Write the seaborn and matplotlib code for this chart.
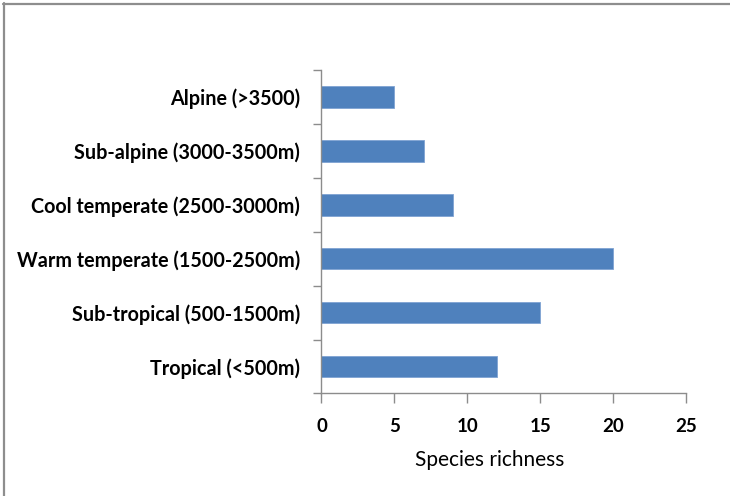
import matplotlib
matplotlib.use("Agg")
import matplotlib.pyplot as plt
import seaborn as sns
import pandas as pd
from matplotlib.lines import Line2D
from matplotlib.ticker import FixedLocator

categories = [
    "Alpine (>3500)",
    "Sub-alpine (3000-3500m)",
    "Cool temperate (2500-3000m)",
    "Warm temperate (1500-2500m)",
    "Sub-tropical (500-1500m)",
    "Tropical (<500m)",
]
richness = [5, 7, 9, 20, 15, 12]
x_ticks = [0, 5, 10, 15, 20, 25]
x_label = "Species richness"

df = pd.DataFrame({"zone": categories, "richness": richness})

sns.set_theme(style="white")
plt.rcParams["font.family"] = ["Lato", "DejaVu Sans"]

fig = plt.figure(figsize=(7.3, 4.96), dpi=100)
ax = fig.add_axes([0.4404, 0.2067, 0.5, 0.6522])

sns.barplot(data=df, y="zone", x="richness", orient="h", color="#4F81BD",
            width=0.4, saturation=1, edgecolor="#7FA3D3", linewidth=0.6, ax=ax)

ax.set_xlim(0, 25)
ax.set_ylim(len(categories) - 0.5, -0.5)
ax.set_xticks(x_ticks)
ax.set_xticklabels([str(t) for t in x_ticks], fontsize=13.5, fontweight="bold", color="#000000")
ax.set_yticks(range(len(categories)))
ax.set_yticklabels(categories, fontsize=14.2, fontweight="bold", color="#000000")
ax.yaxis.set_minor_locator(FixedLocator([i - 0.5 for i in range(len(categories) + 1)]))
ax.tick_params(axis="y", which="major", length=0, pad=15.5)
ax.tick_params(axis="y", which="minor", length=6, width=1, color="#8C8C8C", left=True)
ax.tick_params(axis="x", which="major", length=7, width=1, color="#8C8C8C", bottom=True, pad=11)
ax.set_xlabel(x_label, fontsize=15, color="#000000")
ax.xaxis.set_label_coords(0.4616, -0.175)
ax.set_ylabel("")

for side in ["top", "right"]:
    ax.spines[side].set_visible(False)
for side in ["left", "bottom"]:
    ax.spines[side].set_visible(True)
    ax.spines[side].set_color("#8C8C8C")
    ax.spines[side].set_linewidth(1)
ax.grid(False)

# outer chart border (top and left visible)
fig.add_artist(Line2D([3 / 730, 1], [1 - 3.5 / 496, 1 - 3.5 / 496], transform=fig.transFigure,
                      color="#8E8E8E", linewidth=1.6))
fig.add_artist(Line2D([3.5 / 730, 3.5 / 730], [0, 1 - 3 / 496], transform=fig.transFigure,
                      color="#8E8E8E", linewidth=1.6))

fig.savefig("out.png", dpi=100)
